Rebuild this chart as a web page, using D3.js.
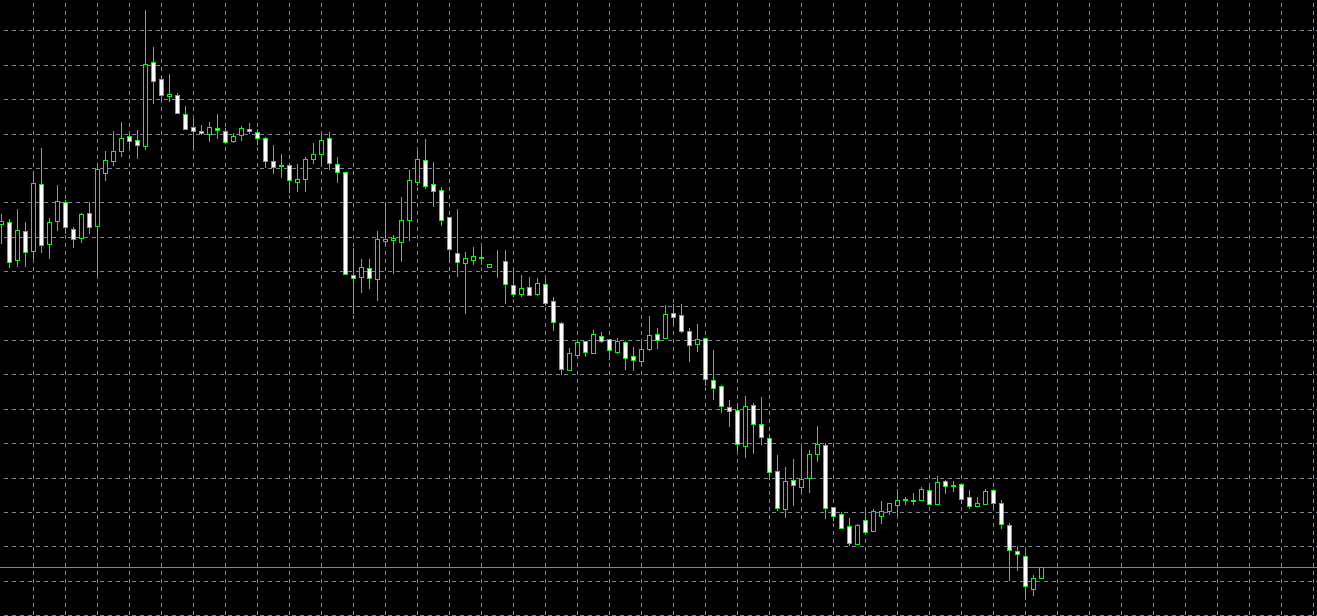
<!DOCTYPE html>
<html>
<head>
<meta charset="utf-8">
<script src="https://cdn.jsdelivr.net/npm/d3@7"></script>
<style>
  html, body { margin: 0; padding: 0; background: #000; overflow: hidden; }
  svg { display: block; }
</style>
</head>
<body>
<svg id="chart" width="1317" height="616"></svg>
<script>
// ---- data (5-digit quotes, one bar per slot) ----
const openV = [
  1.13917,1.13937,1.13557,1.13847,1.13647,1.14317,1.13717,1.13947,1.14137,1.13867,
  1.13777,1.14027,1.13897,1.14427,1.14547,1.14653,1.14800,1.14760,1.14703,1.15537,
  1.15367,1.15200,1.15207,1.15017,1.14887,1.14850,1.14823,1.14877,1.14847,1.14753,
  1.14807,1.14867,1.14837,1.14777,1.14547,1.14510,1.14507,1.14343,1.14373,1.14573,
  1.14623,1.14777,1.14517,1.14437,1.13407,1.13393,1.13477,1.13367,1.13753,1.13763,
  1.13743,1.13963,1.14343,1.14557,1.14317,1.14257,1.13987,1.13627,1.13533,1.13563,
  1.13590,1.13493,1.13537,1.13547,1.13307,1.13223,1.13287,1.13223,1.13317,1.13147,
  1.12927,1.12463,1.12613,1.12747,1.12633,1.12797,1.12767,1.12643,1.12737,1.12597,
  1.12553,1.12673,1.12820,1.12783,1.13027,1.13010,1.12847,1.12723,1.12777,1.12357,
  1.12297,1.12087,1.12057,1.11703,1.12107,1.11917,1.11777,1.11447,1.11067,1.11357,
  1.11293,1.11377,1.11623,1.11707,1.11087,1.11017,1.10897,1.10720,1.10957,1.10853,
  1.11003,1.11053,1.11113,1.11160,1.11150,1.11163,1.11257,1.11123,1.11347,1.11305,
  1.11317,1.11187,1.11097,1.11123,1.11257,1.11127,1.10907,1.10647,1.10597,1.10273,
  1.10383
];
const highV = [
  1.14020,1.13967,1.14070,1.13937,1.14453,1.14680,1.13977,1.14310,1.14160,1.13887,
  1.14027,1.14140,1.14517,1.14650,1.14850,1.14937,1.14810,1.14860,1.16060,1.15690,
  1.15400,1.15420,1.15227,1.15100,1.14977,1.14910,1.14940,1.15020,1.14877,1.14827,
  1.14900,1.14927,1.14867,1.14793,1.14710,1.14620,1.14520,1.14520,1.14593,1.14727,
  1.14843,1.14840,1.14590,1.14443,1.13677,1.13570,1.13570,1.13850,1.14137,1.13810,
  1.14190,1.14457,1.14660,1.14770,1.14540,1.14290,1.13987,1.14070,1.13643,1.13690,
  1.13690,1.13520,1.13660,1.13660,1.13480,1.13410,1.13390,1.13383,1.13367,1.13190,
  1.12937,1.12683,1.12750,1.12750,1.12860,1.12840,1.12767,1.12777,1.12750,1.12687,
  1.12753,1.13000,1.12877,1.13110,1.13117,1.13120,1.12877,1.12920,1.12777,1.12660,
  1.12310,1.12160,1.12110,1.12200,1.12127,1.12190,1.11820,1.11610,1.11487,1.11570,
  1.11687,1.11660,1.11900,1.11727,1.11087,1.11043,1.10977,1.10917,1.11050,1.11067,
  1.11150,1.11133,1.11267,1.11190,1.11230,1.11290,1.11290,1.11400,1.11360,1.11350,
  1.11327,1.11260,1.11187,1.11267,1.11267,1.11157,1.10933,1.10700,1.10680,1.10410,
  1.10487
];
const lowV = [
  1.13727,1.13493,1.13503,1.13503,1.13583,1.13643,1.13583,1.13860,1.13833,1.13687,
  1.13743,1.13827,1.13410,1.14360,1.14513,1.14603,1.14703,1.14583,1.14670,1.15133,
  1.15160,1.15153,1.15033,1.14867,1.14660,1.14820,1.14753,1.14783,1.14727,1.14740,
  1.14760,1.14827,1.14720,1.14493,1.14427,1.14393,1.14240,1.14253,1.14253,1.14527,
  1.14533,1.14473,1.14343,1.13423,1.13033,1.13243,1.13283,1.13163,1.13710,1.13433,
  1.13553,1.13763,1.14310,1.14283,1.14103,1.13913,1.13543,1.13403,1.13033,1.13520,
  1.13520,1.13493,1.13393,1.13133,1.13200,1.13200,1.13210,1.13210,1.13110,1.12860,
  1.12417,1.12463,1.12613,1.12603,1.12633,1.12740,1.12570,1.12630,1.12473,1.12460,
  1.12510,1.12663,1.12683,1.12783,1.12917,1.12837,1.12553,1.12650,1.12310,1.12170,
  1.12043,1.11903,1.11663,1.11593,1.11633,1.11723,1.11367,1.11057,1.10993,1.11110,
  1.11233,1.11243,1.11553,1.10977,1.10960,1.10877,1.10710,1.10720,1.10843,1.10853,
  1.10933,1.11020,1.11007,1.11120,1.11117,1.11157,1.11123,1.11123,1.11230,1.11250,
  1.11127,1.11077,1.11097,1.11117,1.11067,1.10883,1.10363,1.10463,1.10170,1.10213,
  1.10383
];
const closeV = [
  1.13950,1.13537,1.13860,1.13637,1.14327,1.13707,1.13937,1.14147,1.13887,1.13767,
  1.14017,1.13887,1.14467,1.14557,1.14647,1.14780,1.14747,1.14713,1.15517,1.15347,
  1.15213,1.15220,1.15033,1.14873,1.14853,1.14827,1.14890,1.14857,1.14743,1.14800,
  1.14880,1.14847,1.14783,1.14553,1.14493,1.14497,1.14357,1.14367,1.14567,1.14620,
  1.14760,1.14533,1.14445,1.13423,1.13377,1.13487,1.13383,1.13767,1.13770,1.13777,
  1.13957,1.14357,1.14567,1.14303,1.14247,1.13963,1.13667,1.13543,1.13577,1.13600,
  1.13583,1.13520,1.13543,1.13317,1.13225,1.13277,1.13213,1.13327,1.13133,1.12943,
  1.12473,1.12627,1.12737,1.12643,1.12817,1.12753,1.12663,1.12747,1.12577,1.12563,
  1.12667,1.12807,1.12763,1.13017,1.12993,1.12853,1.12713,1.12767,1.12367,1.12283,
  1.12097,1.12047,1.11717,1.12097,1.11923,1.11793,1.11437,1.11077,1.11347,1.11307,
  1.11367,1.11617,1.11720,1.11077,1.11003,1.10883,1.10733,1.10910,1.10843,1.11050,
  1.11047,1.11127,1.11157,1.11170,1.11157,1.11267,1.11123,1.11337,1.11297,1.11300,
  1.11173,1.11103,1.11127,1.11250,1.11127,1.10917,1.10657,1.10617,1.10297,1.10377,
  1.10487
];
const bidPrice = 1.10490;
const gridTopPrice = 1.15857;
const gridStep = 0.003441;
const gridCount = 18;
const barsVisible = 165; // bar slots across the window (incl. empty right margin)

// ---- layout ----
const W = 1317, H = 616;
const svg = d3.select('#chart');
const x = d3.scaleLinear().domain([0, barsVisible - 1]).range([1.5, 1.5 + 8 * (barsVisible - 1)]);
const y = d3.scaleLinear().domain([1.1000, 1.1616]).range([H, 0]);
const px = v => Math.round(v) + 0.5;

svg.append('rect').attr('width', W).attr('height', H).attr('fill', '#000');

// grid
const gridColor = '#778899';
const vIdx = d3.range(4, barsVisible, 4);
svg.append('g').selectAll('line').data(vIdx).join('line')
  .attr('x1', d => x(d)).attr('x2', d => x(d))
  .attr('y1', 0).attr('y2', H)
  .attr('stroke', gridColor).attr('stroke-width', 1)
  .attr('stroke-dasharray', '4,4').attr('stroke-dashoffset', 5);
const hLevels = d3.range(gridCount).map(k => gridTopPrice - k * gridStep);
svg.append('g').selectAll('line').data(hLevels).join('line')
  .attr('x1', 0).attr('x2', W)
  .attr('y1', d => px(y(d))).attr('y2', d => px(y(d)))
  .attr('stroke', gridColor).attr('stroke-width', 1)
  .attr('stroke-dasharray', '4,4').attr('stroke-dashoffset', 4);

// bid line
svg.append('line')
  .attr('x1', 0).attr('x2', W)
  .attr('y1', px(y(bidPrice))).attr('y2', px(y(bidPrice)))
  .attr('stroke', gridColor).attr('stroke-width', 1);

// candles
const bars = openV.map((o, i) => ({ i, o, h: highV[i], l: lowV[i], c: closeV[i] }));
const green = '#00ff00';
const g = svg.append('g');
const cg = g.selectAll('g').data(bars).join('g');
cg.append('line')
  .attr('x1', d => x(d.i)).attr('x2', d => x(d.i))
  .attr('y1', d => Math.round(y(d.h))).attr('y2', d => Math.round(y(d.l)) + 1)
  .attr('stroke', green).attr('stroke-width', 1);
cg.append('rect')
  .attr('x', d => x(d.i) - 2)
  .attr('width', 4)
  .attr('y', d => px(y(Math.max(d.o, d.c))))
  .attr('height', d => Math.max(0, px(y(Math.min(d.o, d.c))) - px(y(Math.max(d.o, d.c)))))
  .attr('fill', d => d.c > d.o ? '#000' : '#fff')
  .attr('stroke', green).attr('stroke-width', 1);
</script>
</body>
</html>
